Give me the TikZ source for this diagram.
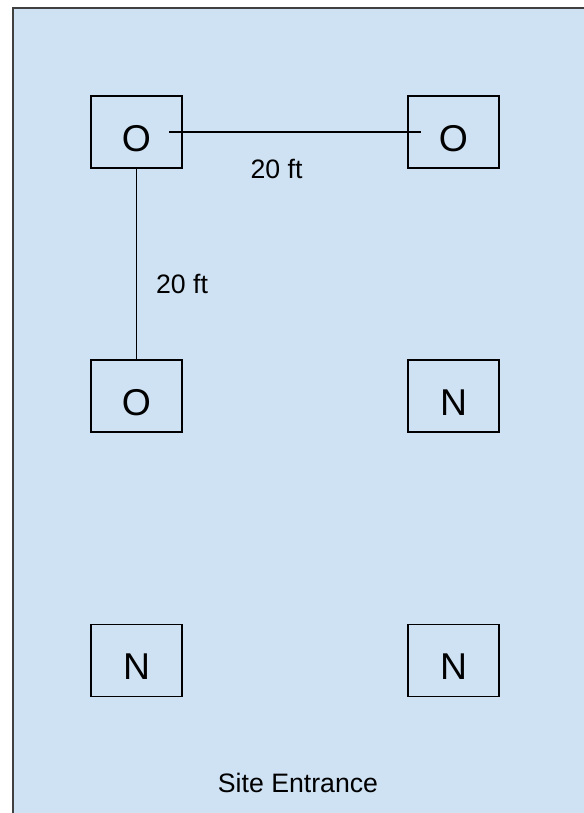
\documentclass[tikz,border=0pt]{standalone}
\usepackage{fontspec}
\setmainfont{Liberation Sans}
\usetikzlibrary{arrows.meta,positioning,calc}
\definecolor{siteblue}{HTML}{CFE2F3}

\begin{document}
\begin{tikzpicture}[x=0.75pt, y=-0.75pt, line width=1.1pt,
  plot/.style={draw, minimum width=68.25pt, minimum height=54pt, inner sep=0pt,
    font=\fontsize{28}{28}\selectfont, text height=29pt, text depth=0pt},
  dist/.style={anchor=base, font=\fontsize{20}{24}\selectfont}]
  \useasboundingbox (0,0) rectangle (584,813);
  \fill[white] (0,0) rectangle (584,813);
  \clip (0,0) rectangle (584,813);
  \draw[fill=siteblue, draw=black!75, line width=1.6pt] (13,8) rectangle (620,840);
  \node[plot] (o1) at (136.5,132) {O};
  \node[plot] (o2) at (453.5,132) {O};
  \node[plot] (o3) at (136.5,396) {O};
  \node[plot] (n1) at (453.5,396) {N};
  \node[plot] (n2) at (136.5,660.5) {N};
  \node[plot] (n3) at (453.5,660.5) {N};
  \draw ([xshift=24.4pt]o1.center) -- ([xshift=-24.4pt]o2.center);
  \draw (o1.south) -- (o3.north);
  \node[dist] (d1) at (276.5,178) {20 ft};
  \node[dist] (d2) at (182,293) {20 ft};
  \node[dist] (entrance) at (298,792.7) {Site Entrance};
\end{tikzpicture}
\end{document}
